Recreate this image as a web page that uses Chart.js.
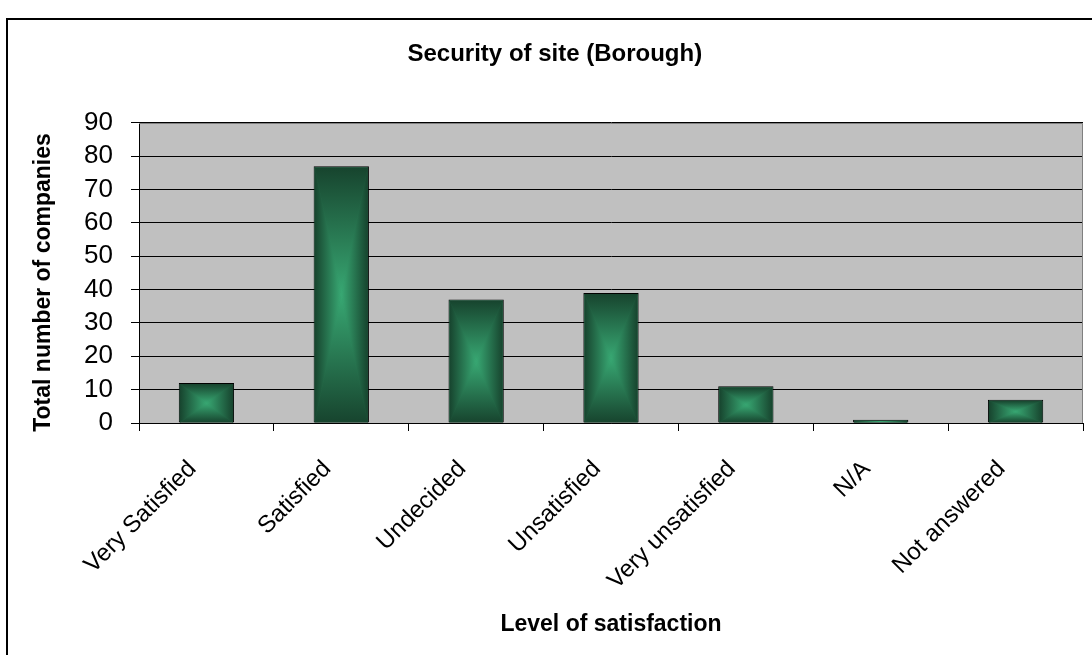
<!DOCTYPE html>
<html>
<head>
<meta charset="utf-8">
<script src="https://cdn.jsdelivr.net/npm/chart.js@4.4.1/dist/chart.umd.min.js"></script>
<style>
  html, body { margin: 0; padding: 0; background: #fff; overflow: hidden; }
  #wrap { position: relative; width: 1092px; height: 655px; }
  #frame { position: absolute; left: 6px; top: 18px; width: 1200px; height: 800px;
           border-left: 2px solid #000; border-top: 2px solid #000; }
  canvas { position: absolute; left: 0; top: 0; }
</style>
</head>
<body>
<div id="wrap">
  <div id="frame"></div>
  <canvas id="c" width="1092" height="655"></canvas>
</div>
<script>
const categories = ["Very Satisfied", "Satisfied", "Undecided", "Unsatisfied", "Very unsatisfied", "N/A", "Not answered"];
const companies = [12, 77, 37, 39, 11, 1, 7];
const yTicks = [0, 10, 20, 30, 40, 50, 60, 70, 80, 90];

const EDGE = '#17442e';
const CENTER = '#38a873';
const FONT = '"Liberation Sans", Arial, sans-serif';

const plotBg = {
  id: 'plotBg',
  beforeDraw(chart) {
    const {ctx, chartArea: a} = chart;
    ctx.save();
    ctx.fillStyle = '#c0c0c0';
    ctx.fillRect(a.left, a.top, a.right - a.left, a.bottom - a.top);
    ctx.restore();
  },
  beforeDatasetsDraw(chart) {
    const {ctx, chartArea: a} = chart;
    ctx.save();
    ctx.strokeStyle = '#808080';
    ctx.lineWidth = 1;
    ctx.beginPath();
    ctx.moveTo(a.left, Math.round(a.top) + 0.5);
    ctx.lineTo(Math.round(a.right) - 0.5, Math.round(a.top) + 0.5);
    ctx.lineTo(Math.round(a.right) - 0.5, a.bottom);
    ctx.stroke();
    ctx.restore();
  }
};

const gradientBars = {
  id: 'gradientBars',
  afterDatasetDraw(chart, args) {
    const ctx = chart.ctx;
    args.meta.data.forEach(bar => {
      const p = bar.getProps(['x', 'y', 'base', 'width'], true);
      const x0 = p.x - p.width / 2 + 1, x1 = p.x + p.width / 2 - 1;
      const y0 = Math.min(p.y, p.base) + 1, y1 = Math.max(p.y, p.base);
      if (y1 - y0 <= 0 || x1 - x0 <= 0) return;
      const cx = (x0 + x1) / 2, cy = (y0 + y1) / 2;
      ctx.save();
      ctx.beginPath();
      ctx.rect(x0, y0, x1 - x0, y1 - y0);
      ctx.clip();
      const tri = (pts, gx0, gy0, gx1, gy1) => {
        const g = ctx.createLinearGradient(gx0, gy0, gx1, gy1);
        g.addColorStop(0, EDGE);
        g.addColorStop(1, CENTER);
        ctx.beginPath();
        ctx.moveTo(pts[0][0], pts[0][1]);
        ctx.lineTo(pts[1][0], pts[1][1]);
        ctx.lineTo(pts[2][0], pts[2][1]);
        ctx.closePath();
        ctx.fillStyle = g;
        ctx.fill();
        ctx.strokeStyle = g;
        ctx.lineWidth = 0.6;
        ctx.stroke();
      };
      tri([[x0, y0], [x1, y0], [cx, cy]], cx, y0, cx, cy);
      tri([[x0, y1], [x1, y1], [cx, cy]], cx, y1, cx, cy);
      tri([[x0, y0], [x0, y1], [cx, cy]], x0, cy, cx, cy);
      tri([[x1, y0], [x1, y1], [cx, cy]], x1, cy, cx, cy);
      ctx.restore();
    });
  }
};

new Chart(document.getElementById('c'), {
  type: 'bar',
  data: {
    labels: categories,
    datasets: [{
      data: companies,
      backgroundColor: '#27744f',
      borderColor: '#000',
      borderWidth: 1,
      borderSkipped: false,
      categoryPercentage: 1,
      barPercentage: 0.41
    }]
  },
  options: {
    responsive: false,
    animation: false,
    layout: { padding: { left: 0, right: 9, top: 0, bottom: 0 } },
    plugins: {
      legend: { display: false },
      tooltip: { enabled: false },
      title: {
        display: true,
        text: '    Security of site (Borough)',
        color: '#000',
        font: { family: FONT, size: 24, weight: 'bold' },
        padding: { top: 40, bottom: 54 }
      }
    },
    scales: {
      x: {
        grid: { offset: true, drawOnChartArea: false, color: '#000', tickLength: 8, lineWidth: 1 },
        border: { color: '#000', width: 1 },
        ticks: {
          color: '#000',
          font: { family: FONT, size: 24 },
          minRotation: 45, maxRotation: 45,
          autoSkip: false,
          padding: 24,
          labelOffset: -14
        },
        title: {
          display: true,
          text: 'Level of satisfaction',
          color: '#000',
          font: { family: FONT, size: 23, weight: 'bold' },
          padding: { top: 0, bottom: 17 }
        },
        afterFit(scale) { scale.height = 232; }
      },
      y: {
        min: 0, max: 90,
        afterBuildTicks(scale) { scale.ticks = yTicks.map(v => ({ value: v })); },
        grid: { color: '#000', tickLength: 8, lineWidth: 1 },
        border: { color: '#000', width: 1 },
        ticks: {
          color: '#000',
          font: { family: FONT, size: 26 },
          autoSkip: false,
          padding: 18
        },
        title: {
          display: true,
          text: 'Total number of companies   ',
          color: '#000',
          font: { family: FONT, size: 23, weight: 'bold' },
          padding: { top: 30, bottom: 0 }
        },
        afterFit(scale) { scale.width = 139; }
      }
    }
  },
  plugins: [plotBg, gradientBars]
});
</script>
</body>
</html>
